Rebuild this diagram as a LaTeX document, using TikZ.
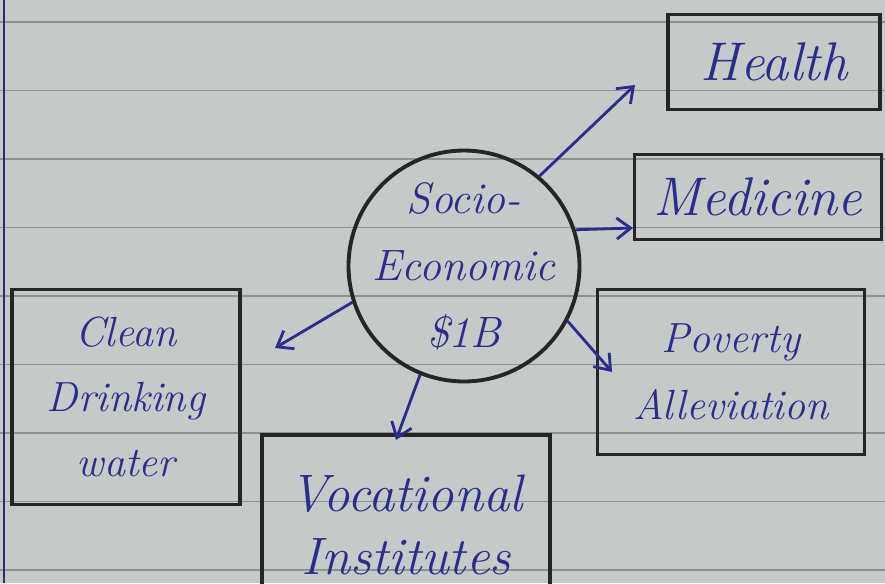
\documentclass[tikz,border=0pt]{standalone}
\usepackage{tikz}
\usetikzlibrary{arrows.meta}

\definecolor{paper}{HTML}{C5C9C7}
\definecolor{ruling}{HTML}{8E9392}
\definecolor{margin}{HTML}{2C2F6A}
\definecolor{ink}{HTML}{2B2C8C}

\tikzset{
  topicbox/.style={draw=black!85, line width=2.2pt, text=ink, align=center,
    font=\fontsize{26}{36}\selectfont\itshape},
  hub/.style={circle, draw=black!85, line width=2.2pt, minimum size=4.62cm, inner sep=0pt},
  hubtext/.style={text=ink, align=center, inner sep=0pt,
    font=\fontsize{25}{38}\selectfont\itshape},
  inkarrow/.style={ink, line width=1.6pt, -{Straight Barb[length=8pt,width=12pt]}}
}

\begin{document}
\begin{tikzpicture}[x=0.02cm, y=-0.02cm]
\useasboundingbox (0,0) rectangle (885,583);
\begin{scope}
\clip (0,0) rectangle (885,583);
\fill[paper] (0,0) rectangle (885,583);
\foreach \k in {0,...,8}
  \draw[ruling, line width=1.1pt] (0,22+68.5*\k) -- (885,22+68.5*\k);
\draw[margin, line width=1.4pt] (4,0) -- (4,583);

\node[hub, label={[hubtext]center:{Socio-\\Economic\\\$1B}}] (soc) at (464,266) {};
\node[topicbox, minimum width=4.24cm, minimum height=1.9cm,
  font=\fontsize{31}{36}\selectfont\itshape] (health) at (774,62) {Health};
\node[topicbox, minimum width=4.94cm, minimum height=1.7cm,
  font=\fontsize{31}{36}\selectfont\itshape] (medicine) at (758,197) {Medicine};
\node[topicbox, minimum width=5.34cm, minimum height=3.3cm,
  font=\fontsize{24}{38}\selectfont\itshape] (poverty) at (731,372) {Poverty\\Alleviation};
\node[topicbox, minimum width=4.56cm, minimum height=4.3cm,
  font=\fontsize{24}{37}\selectfont\itshape] (clean) at (126,397) {Clean\\Drinking\\water};
\node[topicbox, minimum width=5.76cm, minimum height=3.6cm,
  font=\fontsize{30}{36}\selectfont\itshape] (vocational) at (406,525) {Vocational\\Institutes};

% loose arrow ends
\coordinate (toHealth) at (635,85);
\coordinate (toMedicine) at (633,228);
\coordinate (toPoverty) at (612,372);
\coordinate (toClean) at (275,348);
\coordinate (toVoc) at (396,440);

\draw[inkarrow] (soc.50) -- (toHealth);
\draw[inkarrow] (soc.18) -- (toMedicine);
\draw[inkarrow] (soc.-28) -- (toPoverty);
\draw[inkarrow] (soc.198) -- (toClean);
\draw[inkarrow] (soc.-112) -- (toVoc);
\end{scope}
\end{tikzpicture}
\end{document}
